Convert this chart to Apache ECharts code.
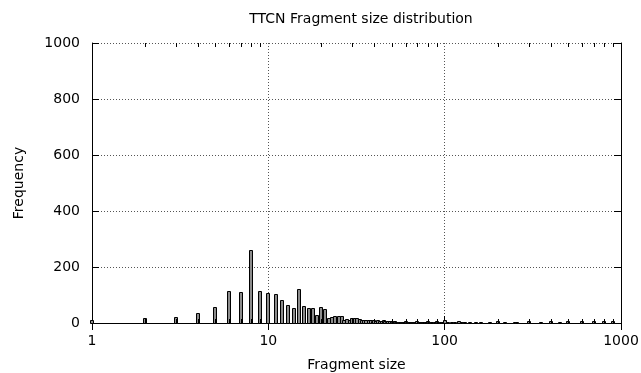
<!DOCTYPE html>
<html>
<head>
<meta charset="utf-8">
<script src="https://cdn.jsdelivr.net/npm/echarts@6/dist/echarts.min.js"></script>
<style>html,body{margin:0;padding:0;background:#fff}#c{width:641px;height:373px}</style>
</head>
<body>
<div id="c"></div>
<script>
const sizes = [1,2,3,4,5,6,7,8,9,10,11,12,13,14,15,16,17,18,19,20,21,22,23,24,25,26,27,28,29,30,
  31,32,33,34,35,36,37,38,39,40,41,42,43,44,45,46,47,48,49,50,51,52,53,54,55,56,57,58,59,60,
  61,62,63,64,65,66,67,68,69,70,72,74,75,76,78,80,82,84,85,86,88,90,92,95,96,98,100,
  105,110,115,120,125,128,130,140,150,160,170,180,200,220,250,256,300,350,400,450,500,600,700,800,900];
const freqs = [12,18,21,37,57,114,112,260,115,108,104,82,63,54,123,61,52,52,29,58,49,17,23,26,26,24,11,16,11,18,
  18,18,14,12,12,10,9,12,8,9,7,9,6,8,9,7,5,8,6,8,4,6,3,5,4,3,4,2,3,8,
  2,3,2,4,2,3,2,2,3,8,2,3,2,2,2,8,2,2,2,1,2,8,2,2,1,2,10,
  2,3,2,8,2,3,2,2,3,2,1,2,8,2,3,2,8,2,8,2,8,8,8,8,8];
const xTicks = [1,10,100,1000];
const xMinorTicks = [2,3,4,5,6,7,8,9,20,30,40,50,60,70,80,90,200,300,400,500,600,700,800,900];
const yTicks = [0,200,400,600,800,1000];

const barData = sizes.map((s,i)=>[s,freqs[i]]);
const minorData = xMinorTicks.map(v=>[v]);
const FONT = 'DejaVu Sans';
const FS = 14;
const grid = {left:92, right:20, top:43, bottom:50, outerBoundsMode:'none', containLabel:false};
const dotted = {show:true, lineStyle:{color:'#555', width:1, type:[1,2]}};
const plain = v => String(v);

const chart = echarts.init(document.getElementById('c'), null, {renderer:'canvas'});
chart.setOption({
  animation:false,
  title:{text:'TTCN Fragment size distribution', left:356, textAlign:'center', top:7,
    textStyle:{fontFamily:FONT, fontSize:FS, fontWeight:'normal', color:'#000'}},
  grid: grid,
  xAxis:[{
    type:'log', logBase:10, min:xTicks[0], max:xTicks[xTicks.length-1],
    name:'Fragment size', nameLocation:'middle', nameGap:35,
    nameTextStyle:{fontFamily:FONT, fontSize:FS, color:'#000'},
    axisLine:{show:true, lineStyle:{color:'#000', width:1}},
    axisTick:{show:true, inside:true, length:7, lineStyle:{color:'#000'}},
    axisLabel:{fontFamily:FONT, fontSize:FS, color:'#000', margin:11, formatter:plain},
    splitLine: dotted
  },{
    type:'log', logBase:10, min:xTicks[0], max:xTicks[xTicks.length-1], position:'top',
    axisLine:{show:true, lineStyle:{color:'#000', width:1}},
    axisTick:{show:true, inside:true, length:7, lineStyle:{color:'#000'}},
    axisLabel:{show:false}, splitLine:{show:false}
  }],
  yAxis:[{
    type:'value', min:yTicks[0], max:yTicks[yTicks.length-1], interval:200,
    name:'Frequency', nameLocation:'middle', nameGap:66, nameRotate:90,
    nameTextStyle:{fontFamily:FONT, fontSize:FS, color:'#000'},
    axisLine:{show:true, lineStyle:{color:'#000', width:1}},
    axisTick:{show:true, inside:true, length:7, lineStyle:{color:'#000'}},
    axisLabel:{fontFamily:FONT, fontSize:FS, color:'#000', margin:12, formatter:plain},
    splitLine: dotted
  },{
    type:'value', min:yTicks[0], max:yTicks[yTicks.length-1], interval:200, position:'right',
    axisLine:{show:true, lineStyle:{color:'#000', width:1}},
    axisTick:{show:true, inside:true, length:7, lineStyle:{color:'#000'}},
    axisLabel:{show:false}, splitLine:{show:false}
  }],
  series:[{
    type:'custom', xAxisIndex:0, yAxisIndex:0, data:barData, clip:false,
    renderItem:function(params, api){
      const p = api.coord([api.value(0), api.value(1)]);
      const b = api.coord([api.value(0), 0]);
      return {type:'rect', shape:{x:Math.round(p[0])-1.5, y:Math.round(p[1])+0.5, width:3, height:Math.round(b[1]-p[1])},
        style:{fill:'#8c8c8c', stroke:'#000', lineWidth:1}};
    }
  },{
    type:'custom', xAxisIndex:0, yAxisIndex:0, data:minorData, silent:true,
    renderItem:function(params, api){
      const b = api.coord([api.value(0), yTicks[0]]);
      const t = api.coord([api.value(0), yTicks[yTicks.length-1]]);
      const x = Math.round(b[0])+0.5;
      return {type:'group', children:[
        {type:'line', shape:{x1:x, y1:b[1], x2:x, y2:b[1]-4}, style:{stroke:'#000', lineWidth:1}},
        {type:'line', shape:{x1:x, y1:t[1], x2:x, y2:t[1]+4}, style:{stroke:'#000', lineWidth:1}}
      ]};
    }
  }]
});
</script>
</body>
</html>
